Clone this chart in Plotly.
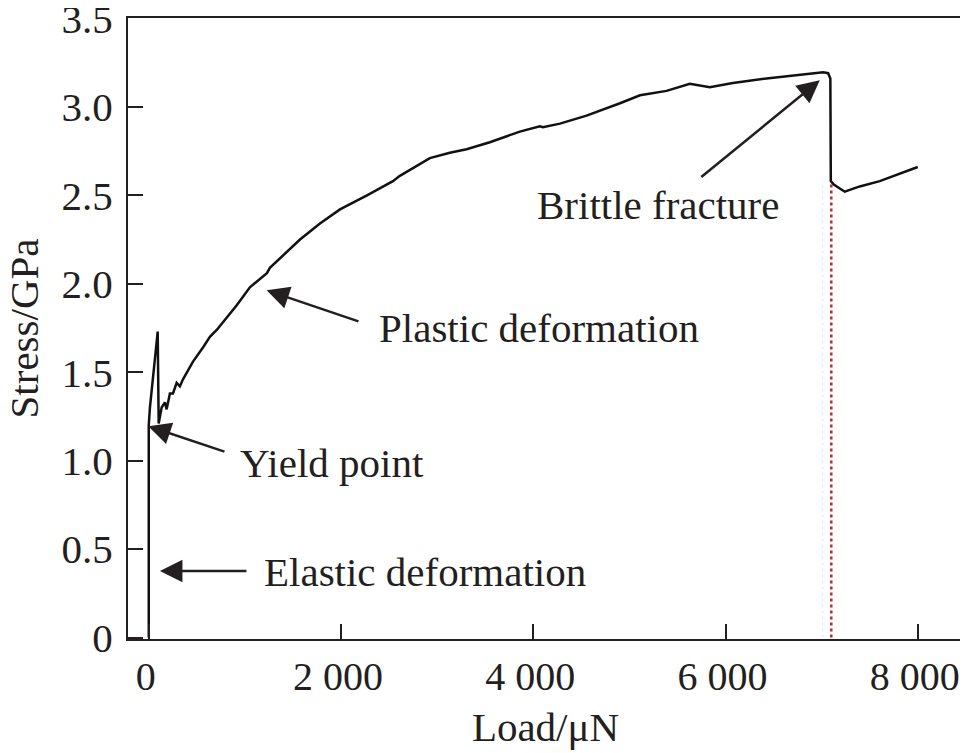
import plotly.graph_objects as go

# Stress–load curve (load in µN, stress in GPa)
load = [0, 0, 12, 93, 103, 134, 168, 186, 220, 252, 290, 324, 356, 428, 460, 564,
        636, 709, 813, 917, 1052, 1229, 1260, 1437, 1573, 1781, 1989, 2270, 2540,
        2612, 2924, 3132, 3306, 3548, 3860, 4068, 4100, 4277, 4554, 4902, 5110,
        5386, 5628, 5836, 6076, 6426, 6738, 7015, 7067, 7090, 7095, 7126, 7240,
        7396, 7604, 7999]
stress = [0, 1.20, 1.30, 1.73, 1.21, 1.30, 1.33, 1.29, 1.38, 1.38, 1.44, 1.42, 1.46,
          1.53, 1.56, 1.64, 1.70, 1.74, 1.81, 1.88, 1.98, 2.06, 2.09, 2.18, 2.25,
          2.34, 2.42, 2.50, 2.58, 2.61, 2.71, 2.74, 2.76, 2.80, 2.86, 2.89, 2.885,
          2.905, 2.95, 3.02, 3.065, 3.09, 3.13, 3.11, 3.135, 3.16, 3.18, 3.195,
          3.19, 3.16, 2.58, 2.56, 2.52, 2.55, 2.58, 2.66]

fracture_load = [7100, 7100]
fracture_stress = [0, 2.57]
guide_load = [7010, 7010]
guide_stress = [0, 2.57]

y_ticks = [0, 0.5, 1.0, 1.5, 2.0, 2.5, 3.0, 3.5]
y_ticktext = ["0", "0.5", "1.0", "1.5", "2.0", "2.5", "3.0", "3.5"]
x_ticks = [0, 2000, 4000, 6000, 8000]
x_ticktext = ["0", "2 000", "4 000", "6 000", "8 000"]

FONT = "Liberation Serif, Times New Roman, serif"
INK = "#231f20"

fig = go.Figure()
fig.add_trace(go.Scatter(x=guide_load, y=guide_stress, mode="lines",
                         line=dict(color="#e3f1fa", width=1.5, dash="dot"),
                         showlegend=False, hoverinfo="skip"))
fig.add_trace(go.Scatter(x=fracture_load, y=fracture_stress, mode="lines",
                         line=dict(color="#c0282d", width=2.5, dash="dot"),
                         showlegend=False))
fig.add_trace(go.Scatter(x=load, y=stress, mode="lines",
                         line=dict(color="#111111", width=2.5),
                         showlegend=False))

annots = [
    # (head x, head y, tail x, tail y, text, text x, text y)
    (116, 0.376, 1032, 0.376, "Elastic deformation", 1179, 0.37),
    (-5, 1.195, 803, 1.048, "Yield point", 927, 0.986),
    (1226, 1.963, 2197, 1.784, "Plastic deformation", 2373, 1.748),
    (6980, 3.15, 5732, 2.596, "Brittle fracture", 4018, 2.443),
]
for hx, hy, tx, ty, txt, lx, ly in annots:
    fig.add_annotation(x=hx, y=hy, ax=tx, ay=ty, xref="x", yref="y",
                       axref="x", ayref="y", text="", showarrow=True,
                       arrowhead=2, arrowsize=1.8, arrowwidth=2.5,
                       arrowcolor=INK, standoff=0)
    fig.add_annotation(x=lx, y=ly, xref="x", yref="y", text=txt,
                       showarrow=False, xanchor="left", yanchor="middle",
                       font=dict(family=FONT, size=41, color=INK))

# y-axis title placed as a rotated annotation (the axis title would be pushed inside the margin)
fig.add_annotation(x=-0.1246, y=0.5, xref="paper", yref="paper",
                   text="Stress/GPa", textangle=-90, showarrow=False,
                   xanchor="center", yanchor="middle",
                   font=dict(family=FONT, size=41, color=INK))

axis_common = dict(showgrid=False, zeroline=False, showline=True,
                   linecolor=INK, linewidth=2, mirror=True,
                   ticks="inside", ticklen=15, tickwidth=2, tickcolor=INK,
                   ticklabeloverflow="allow")

fig.update_xaxes(range=[-216, 8470], tickvals=x_ticks, ticktext=x_ticktext,
                 ticklabelstandoff=1, ticklabelshift=-3,
                 tickfont=dict(family=FONT, size=40, color=INK),
                 title=dict(text="Load/μN", font=dict(family=FONT, size=41, color=INK),
                            standoff=14),
                 **axis_common)
fig.update_yaxes(range=[-0.008, 3.502], tickvals=y_ticks, ticktext=y_ticktext,
                 ticklabelstandoff=5,
                 tickfont=dict(family=FONT, size=41, color=INK),
                 **axis_common)

# the page body adds an 8 px offset; size the figure so the plot box lands where the reference has it
fig.update_layout(width=960, height=745,
                  margin=dict(l=120, r=5, t=10, b=114, autoexpand=False),
                  plot_bgcolor="white", paper_bgcolor="white",
                  font=dict(family=FONT, color=INK))

fig.write_html("out.html")
